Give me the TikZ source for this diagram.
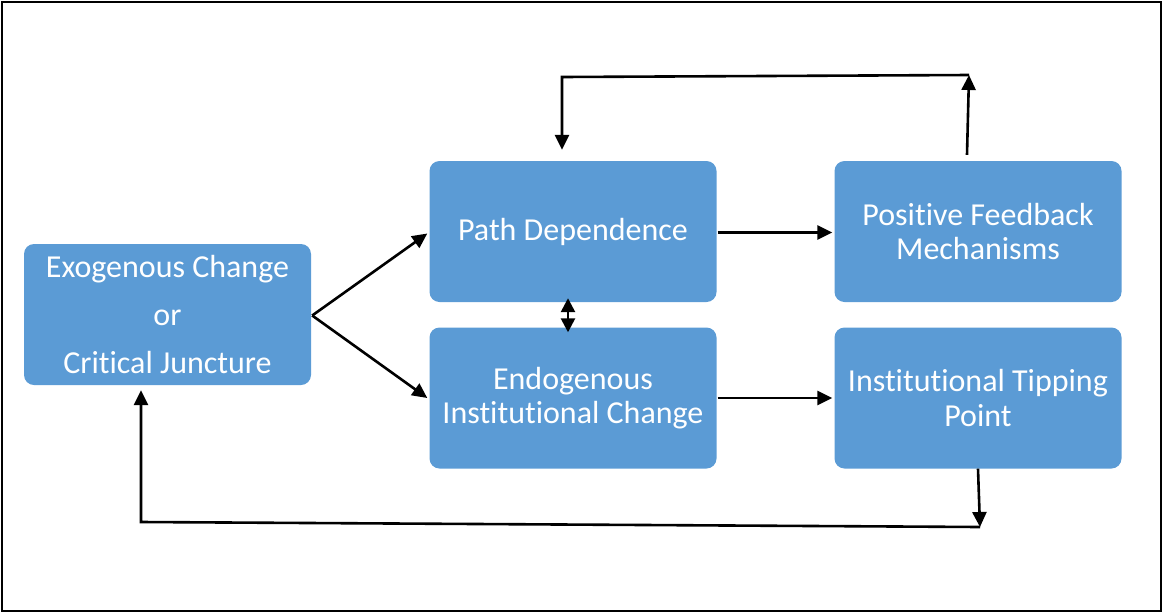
\documentclass[tikz,border=0pt]{standalone}
\usepackage{fontspec}
\setmainfont{Carlito}[Ligatures={NoCommon}]
\usetikzlibrary{arrows.meta,calc}
\definecolor{boxblue}{HTML}{5B9BD5}
\begin{document}
\begin{tikzpicture}[x=1pt,y=-1pt,
  blk/.style={rectangle,rounded corners=10pt,fill=boxblue,draw=none,
    minimum width=287pt,minimum height=141pt,text=white,align=center,
    font=\fontsize{32}{34.5}\selectfont,inner sep=0pt},
  arr/.style={line width=2.6pt,-{Triangle[length=15pt,width=14pt]}},
  darr/.style={line width=2.6pt,{Triangle[length=14pt,width=14pt]}-{Triangle[length=14pt,width=14pt]}},
  ln/.style={line width=2.6pt}]
\useasboundingbox (0,0) rectangle (1163,614);
\draw[line width=2pt] (2,2) rectangle (1161,611);
\node[blk] (exo) at (167.5,314.5) {Exogenous Change\\[13.5pt]or\\[13.5pt]Critical Juncture};
\node[blk] (path) at (573,231.5) {Path Dependence};
\node[blk] (endo) at (573,398) {Endogenous\\Institutional Change};
\node[blk] (pos) at (978,231.5) {Positive Feedback\\Mechanisms};
\node[blk] (tip) at (978,398) {Institutional Tipping\\Point};
% exo to path / endo
\coordinate (fork) at ($(exo.east)+(1,1)$);
\draw[arr] (fork) -- ($(path.west)+(-2,2)$);
\draw[arr] (fork) -- ($(endo.west)+(-2,0)$);
% double arrow
\draw[darr] ($(path.south)+(-5,-4)$) -- ($(endo.north)+(-5,5)$);
% horizontals
\draw[arr] ($(path.east)+(1,1)$) -- ($(pos.west)+(-2,1)$);
\draw[arr] ($(endo.east)+(1,0)$) -- ($(tip.west)+(-2,0)$);
% top loop
\coordinate (t1) at ($(pos.north)+(-11,-6)$);
\coordinate (t2) at (969,75);
\coordinate (t3) at (562,77);
\coordinate (t4) at ($(path.north)+(-11,-11)$);
\draw[arr] (t1) -- (t2);
\draw[arr] (t2) -- (t3) -- (t4);
% bottom loop
\coordinate (b1) at ($(tip.south)+(0,0)$);
\coordinate (b2) at (980,527);
\coordinate (b3) at (141,522);
\coordinate (b4) at ($(exo.south)+(-26.5,5)$);
\draw[arr] (b1) -- (b2);
\draw[arr] (b2) -- (b3) -- (b4);
\end{tikzpicture}
\end{document}
